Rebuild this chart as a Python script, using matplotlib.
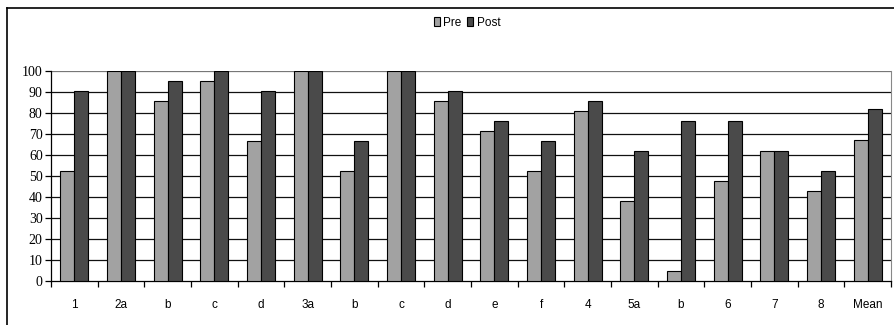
import numpy as np
import matplotlib.pyplot as plt
from matplotlib.lines import Line2D

# item labels and percentage scores
categories = ["1", "2a", "b", "c", "d", "3a", "b", "c", "d", "e", "f", "4",
              "5a", "b", "6", "7", "8", "Mean"]
pre = [52.4, 100, 85.7, 95.2, 66.7, 100, 52.4, 100, 85.7, 71.4, 52.4, 81.0,
       38.1, 4.8, 47.6, 61.9, 42.9, 67.0]
post = [90.5, 100, 95.2, 100, 90.5, 100, 66.7, 100, 90.5, 76.2, 66.7, 85.7,
        61.9, 76.2, 76.2, 61.9, 52.4, 81.8]
yticks = list(range(0, 101, 10))

fig = plt.figure(figsize=(8.94, 3.25), dpi=100)
ax = fig.add_axes([51 / 894, 44 / 325, 840 / 894, 210 / 325])

x = np.arange(len(categories))
w = 0.3
ax.bar(x - w / 2, pre, w, color="#a2a2a2", edgecolor="black", linewidth=0.8,
       label="Pre", zorder=3)
ax.bar(x + w / 2, post, w, color="#4a4a4a", edgecolor="black", linewidth=0.8,
       label="Post", zorder=3)

ax.set_xlim(-0.5, len(categories) - 0.5)
ax.set_ylim(0, 100)
ax.set_yticks(yticks)
ax.set_yticklabels([str(v) for v in yticks], fontfamily="Liberation Serif",
                   fontsize=10)
for v in yticks[1:]:
    ax.axhline(v, color="#111111" if v < 100 else "#777777", linewidth=0.9,
               zorder=1)

# category labels centred, ticks between categories
ax.set_xticks(np.arange(len(categories) + 1) - 0.5)
ax.set_xticklabels([])
ax.set_xticks(x, minor=True)
ax.set_xticklabels(categories, minor=True, fontfamily="Liberation Sans",
                   fontsize=8.5)
ax.tick_params(axis="x", which="major", direction="out", length=4, width=0.9)
ax.tick_params(axis="x", which="minor", length=0, pad=13)
ax.tick_params(axis="y", direction="out", length=4, width=0.9, pad=2)

ax.spines["top"].set_visible(False)
ax.spines["right"].set_color("#888888")
ax.spines["left"].set_linewidth(0.9)
ax.spines["bottom"].set_linewidth(0.9)

leg = fig.legend(loc="center", bbox_to_anchor=(467 / 894, 1 - 23 / 325),
                 ncol=2, frameon=False, handlelength=0.5,
                 handleheight=0.8, handletextpad=0.3, columnspacing=0.5,
                 prop={"family": "Liberation Sans", "size": 8.5})

# outer chart border (only top and left visible in the crop)
fig.add_artist(Line2D([7 / 894, 7 / 894], [0, 1 - 8 / 325],
                      transform=fig.transFigure, color="black", linewidth=1.2))
fig.add_artist(Line2D([7 / 894, 1], [1 - 8 / 325, 1 - 8 / 325],
                      transform=fig.transFigure, color="black", linewidth=1.2))

fig.savefig("out.png", dpi=100)
